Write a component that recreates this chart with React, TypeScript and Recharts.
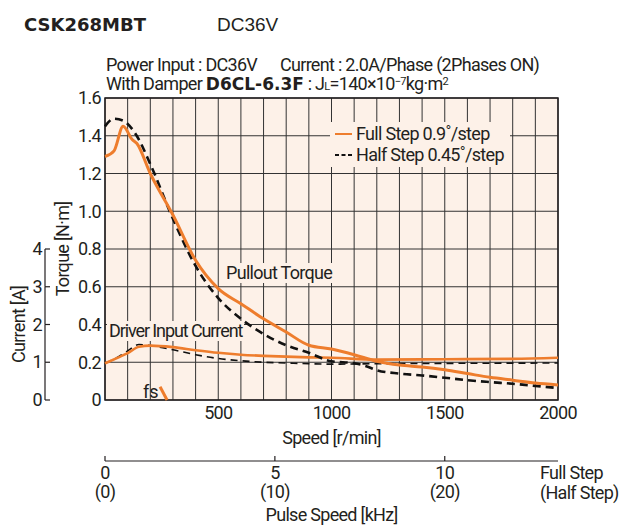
import React from "react";
import {
  ComposedChart,
  Line,
  XAxis,
  YAxis,
  CartesianGrid,
  Legend,
  ReferenceArea,
} from "recharts";

const FONT = "Roboto, sans-serif";
const FS = 18;
const LS = -0.7;
const HEAVY = "'DejaVu Sans', sans-serif";
const ORANGE = "#ee7d2d";
const PEACH = "#fdf1e8";
const INK = "#231f20";

// plot box in page pixels
const PLOT_TOP = 98;
const PLOT_BOTTOM = 400;
const CURRENT_STEP = (PLOT_BOTTOM - PLOT_TOP) / 8;

// axis ids: torque sits next to the plot, current further out
const TORQUE = 0;
const CURRENT = 1;

// Pullout torque, full step [r/min] -> [N·m]
const fullSpeed = [0, 40, 80, 120, 140, 200, 300, 400, 500, 600, 700, 800, 900, 1000, 1100, 1200, 1300, 1400, 1500, 1600, 1700, 1800, 1900, 2000];
const fullTorque = [1.29, 1.32, 1.45, 1.38, 1.36, 1.2, 0.98, 0.74, 0.59, 0.51, 0.43, 0.36, 0.29, 0.27, 0.24, 0.205, 0.185, 0.175, 0.16, 0.14, 0.12, 0.105, 0.09, 0.08];

// Pullout torque, half step
const halfSpeed = [0, 40, 80, 140, 200, 300, 400, 500, 600, 700, 800, 900, 1000, 1100, 1150, 1200, 1300, 1400, 1500, 1600, 1700, 1800, 1900, 2000];
const halfTorque = [1.45, 1.49, 1.48, 1.4, 1.25, 0.96, 0.71, 0.54, 0.43, 0.35, 0.29, 0.25, 0.205, 0.195, 0.18, 0.158, 0.14, 0.13, 0.118, 0.105, 0.095, 0.086, 0.075, 0.063];

// Driver input current [A]
const fullCurSpeed = [0, 60, 100, 150, 200, 300, 400, 500, 600, 700, 800, 900, 1000, 1200, 1500, 1800, 2000];
const fullCurrent = [0.97, 1.13, 1.24, 1.41, 1.44, 1.4, 1.32, 1.25, 1.2, 1.17, 1.15, 1.13, 1.12, 1.07, 1.08, 1.09, 1.12];
const halfCurSpeed = [0, 60, 100, 150, 200, 300, 400, 500, 600, 700, 800, 900, 1000, 1200, 1500, 2000];
const halfCurrent = [0.97, 1.15, 1.3, 1.47, 1.44, 1.33, 1.2, 1.1, 1.04, 1.0, 0.98, 0.96, 0.95, 0.96, 0.97, 0.98];

// fs (starting frequency) mark
const fsSpeed = [243, 274];
const fsTorque = [0.07, 0];

const speedTicks = [0, 100, 200, 300, 400, 500, 600, 700, 800, 900, 1000, 1100, 1200, 1300, 1400, 1500, 1600, 1700, 1800, 1900, 2000];
const torqueTicks = [0, 0.2, 0.4, 0.6, 0.8, 1.0, 1.2, 1.4, 1.6];
const currentTicks = [0, 1, 2, 3, 4];
const pulseTicks = [0, 5, 10];
const halfPulseTicks = [0, 10, 20];
const pulseMax = 13.333; // 2000 r/min at 0.9°/step

const seriesNames = ["Full Step 0.9˚/step", "Half Step 0.45˚/step"];

const zip = (xs: number[], ys: number[]) => xs.map((s, i) => ({ speed: s, value: ys[i] }));

const fullTorqueData = zip(fullSpeed, fullTorque);
const halfTorqueData = zip(halfSpeed, halfTorque);
const fullCurrentData = zip(fullCurSpeed, fullCurrent);
const halfCurrentData = zip(halfCurSpeed, halfCurrent);
const fsData = zip(fsSpeed, fsTorque);
const pulseData = pulseTicks.map((p) => ({ pulse: p }));

const textProps = { fontFamily: FONT, fontSize: FS, letterSpacing: LS, fill: INK };

const CurrentTick = (props: any) => {
  const { x, y, payload } = props;
  const v = payload.value;
  const last = currentTicks[currentTicks.length - 1];
  return (
    <g>
      <line x1={x} x2={x + 5} y1={y} y2={y} stroke={INK} strokeWidth={1.2} />
      {v < last && <line x1={x} x2={x} y1={y} y2={y - CURRENT_STEP} stroke={INK} strokeWidth={1.2} />}
      <text x={x - 3} y={y + 6} textAnchor="end" {...textProps}>
        {v}
      </text>
    </g>
  );
};

const PulseTick = (props: any) => {
  const { x, y, payload } = props;
  const i = pulseTicks.indexOf(payload.value);
  return (
    <g>
      <line x1={x} x2={x} y1={y - 5} y2={y} stroke={INK} strokeWidth={1.2} />
      <text textAnchor="middle" {...textProps}>
        <tspan x={x} y={y + 18}>{payload.value}</tspan>
        <tspan x={x} dy={19}>({halfPulseTicks[i]})</tspan>
      </text>
    </g>
  );
};

const axisTitle = (text: string, dx: number) => (props: any) => {
  const { x, y, height } = props.viewBox;
  const cx = x + dx;
  const cy = y + height / 2;
  return (
    <text
      x={cx}
      y={cy}
      transform={`rotate(-90 ${cx} ${cy})`}
      textAnchor="middle"
      dominantBaseline="central"
      {...textProps}
    >
      {text}
    </text>
  );
};

const LegendBox = () => (
  <div style={{ background: PEACH, padding: "1px 6px 2px 5px", fontFamily: FONT, fontSize: FS, letterSpacing: LS, color: INK, lineHeight: "21px" }}>
    {seriesNames.map((n, i) => (
      <div key={n} style={{ display: "flex", alignItems: "center", whiteSpace: "nowrap" }}>
        <svg width={17} height={6} style={{ marginRight: 4 }}>
          <line
            x1={0}
            x2={17}
            y1={3}
            y2={3}
            stroke={i === 0 ? ORANGE : "#111"}
            strokeWidth={2}
            strokeDasharray={i === 0 ? undefined : "4 2.5"}
          />
        </svg>
        {n}
      </div>
    ))}
  </div>
);

const note = (text: string, left: number, top: number, ls = LS) => (
  <div
    style={{
      position: "absolute",
      left,
      top,
      background: PEACH,
      padding: "0 2px",
      fontFamily: FONT,
      fontSize: FS,
      letterSpacing: ls,
      lineHeight: "20px",
      color: INK,
      whiteSpace: "nowrap",
    }}
  >
    {text}
  </div>
);

const lineStyle: React.CSSProperties = {
  position: "absolute",
  fontFamily: FONT,
  fontSize: FS,
  letterSpacing: LS,
  lineHeight: "18px",
  color: INK,
  whiteSpace: "pre",
};

export default function App() {
  return (
    <div style={{ position: "absolute", left: 0, top: 0, width: 620, height: 527, background: "#fff", overflow: "hidden" }}>
      <div style={{ position: "absolute", left: 24, top: 16, fontFamily: HEAVY, fontWeight: 700, fontSize: 18, lineHeight: "18px", color: INK }}>
        CSK268MBT
      </div>
      <div style={{ position: "absolute", left: 217, top: 15, fontFamily: "'Liberation Sans', sans-serif", fontSize: 19, lineHeight: "19px", color: INK }}>
        DC36V
      </div>
      <div style={{ ...lineStyle, left: 106, top: 56 }}>Power Input : DC36V</div>
      <div style={{ ...lineStyle, left: 280, top: 56 }}>Current : 2.0A/Phase (2Phases ON)</div>
      <div style={{ ...lineStyle, left: 106, top: 75 }}>
        {"With Damper "}
        <span style={{ fontFamily: HEAVY, fontWeight: 700, fontSize: 17, letterSpacing: 0 }}>D6CL-6.3F</span>
        {" : J"}
        <span style={{ fontSize: 11 }}>L</span>
        {"=140×10"}
        <span style={{ fontSize: 11, verticalAlign: 5, lineHeight: "8px" }}>−7</span>
        {"kg·m"}
        <span style={{ fontSize: 11, verticalAlign: 5, lineHeight: "8px" }}>2</span>
      </div>

      <div style={{ position: "absolute", left: 0, top: 0 }}>
        <ComposedChart width={620} height={527} margin={{ top: PLOT_TOP, right: 62, bottom: 66, left: 0 }}>
          <CartesianGrid yAxisId={TORQUE} stroke="#333" fill={PEACH} fillOpacity={1} />
          <XAxis
            type="number"
            dataKey="speed"
            domain={[0, 2000]}
            ticks={speedTicks}
            interval={0}
            height={61}
            axisLine={false}
            tickLine={false}
            tickSize={0}
            tickMargin={6}
            tickFormatter={(v: number) => (v > 0 && v % 500 === 0 ? String(v) : "")}
            tick={textProps}
            label={{ value: "Speed [r/min]", position: "insideBottom", offset: 17, ...textProps }}
          />
          <YAxis
            yAxisId={TORQUE}
            type="number"
            domain={[0, 1.6]}
            ticks={torqueTicks}
            interval={0}
            width={60}
            axisLine={false}
            tickLine={false}
            tickSize={0}
            tickMargin={4}
            tickFormatter={(v: number) => (v === 0 ? "0" : v.toFixed(1))}
            tick={textProps}
            label={{ content: axisTitle("Torque [N·m]", 17) }}
          />
          <YAxis
            yAxisId={CURRENT}
            type="number"
            domain={[0, 8]}
            ticks={currentTicks}
            interval={0}
            width={45}
            axisLine={false}
            tickLine={false}
            tickSize={0}
            tickMargin={0}
            tick={<CurrentTick />}
            label={{ content: (p: any) => axisTitle("Current [A]", 18)({ viewBox: { ...p.viewBox, y: PLOT_BOTTOM - 4 * CURRENT_STEP, height: 4 * CURRENT_STEP } }) }}
          />
          <ReferenceArea
            yAxisId={TORQUE}
            x1={0}
            x2={2000}
            y1={0}
            y2={1.6}
            fill="none"
            stroke={INK}
            strokeWidth={1.5}
            ifOverflow="visible"
          />
          <Legend
            layout="vertical"
            verticalAlign="middle"
            align="center"
            content={<LegendBox />}
            wrapperStyle={{ left: 330, top: 122, width: "auto", height: "auto" }}
          />
          <Line
            yAxisId={CURRENT}
            data={halfCurrentData}
            dataKey="value"
            type="monotone"
            stroke="#111"
            strokeWidth={1.6}
            strokeDasharray="7 5"
            dot={false}
            activeDot={false}
            legendType="none"
            isAnimationActive={false}
          />
          <Line
            yAxisId={CURRENT}
            data={fullCurrentData}
            dataKey="value"
            type="monotone"
            stroke={ORANGE}
            strokeWidth={2.6}
            dot={false}
            activeDot={false}
            legendType="none"
            isAnimationActive={false}
          />
          <Line
            yAxisId={TORQUE}
            data={halfTorqueData}
            dataKey="value"
            name={seriesNames[1]}
            type="monotone"
            stroke="#111"
            strokeWidth={2.6}
            strokeDasharray="8 5"
            dot={false}
            activeDot={false}
            isAnimationActive={false}
          />
          <Line
            yAxisId={TORQUE}
            data={fullTorqueData}
            dataKey="value"
            name={seriesNames[0]}
            type="monotone"
            stroke={ORANGE}
            strokeWidth={3}
            dot={false}
            activeDot={false}
            isAnimationActive={false}
          />
          <Line
            yAxisId={TORQUE}
            data={fsData}
            dataKey="value"
            type="linear"
            stroke={ORANGE}
            strokeWidth={3}
            dot={false}
            activeDot={false}
            legendType="none"
            isAnimationActive={false}
          />
        </ComposedChart>
      </div>

      {note("Pullout Torque", 224, 263)}
      {note("Driver Input Current", 107, 321, -1.1)}
      <div style={{ position: "absolute", left: 143, top: 382, fontFamily: FONT, fontSize: FS, lineHeight: "20px", color: INK }}>fs</div>

      <div style={{ position: "absolute", left: 0, top: 440 }}>
        <ComposedChart width={620} height={87} data={pulseData} margin={{ top: 10, right: 62, bottom: 0, left: 105 }}>
          <XAxis
            type="number"
            dataKey="pulse"
            domain={[0, pulseMax]}
            ticks={pulseTicks}
            interval={0}
            height={66}
            axisLine={{ stroke: INK, strokeWidth: 1.2 }}
            tickLine={false}
            tickSize={0}
            tickMargin={0}
            tick={<PulseTick />}
            label={{ value: "Pulse Speed [kHz]", position: "insideBottom", offset: 6, ...textProps }}
          />
          <YAxis hide domain={[0, 1]} />
        </ComposedChart>
      </div>
      <div style={{ position: "absolute", left: 540, top: 463, fontFamily: FONT, fontSize: FS, letterSpacing: LS, lineHeight: "20px", color: INK, whiteSpace: "nowrap" }}>
        Full Step
        <br />
        (Half Step)
      </div>
    </div>
  );
}
